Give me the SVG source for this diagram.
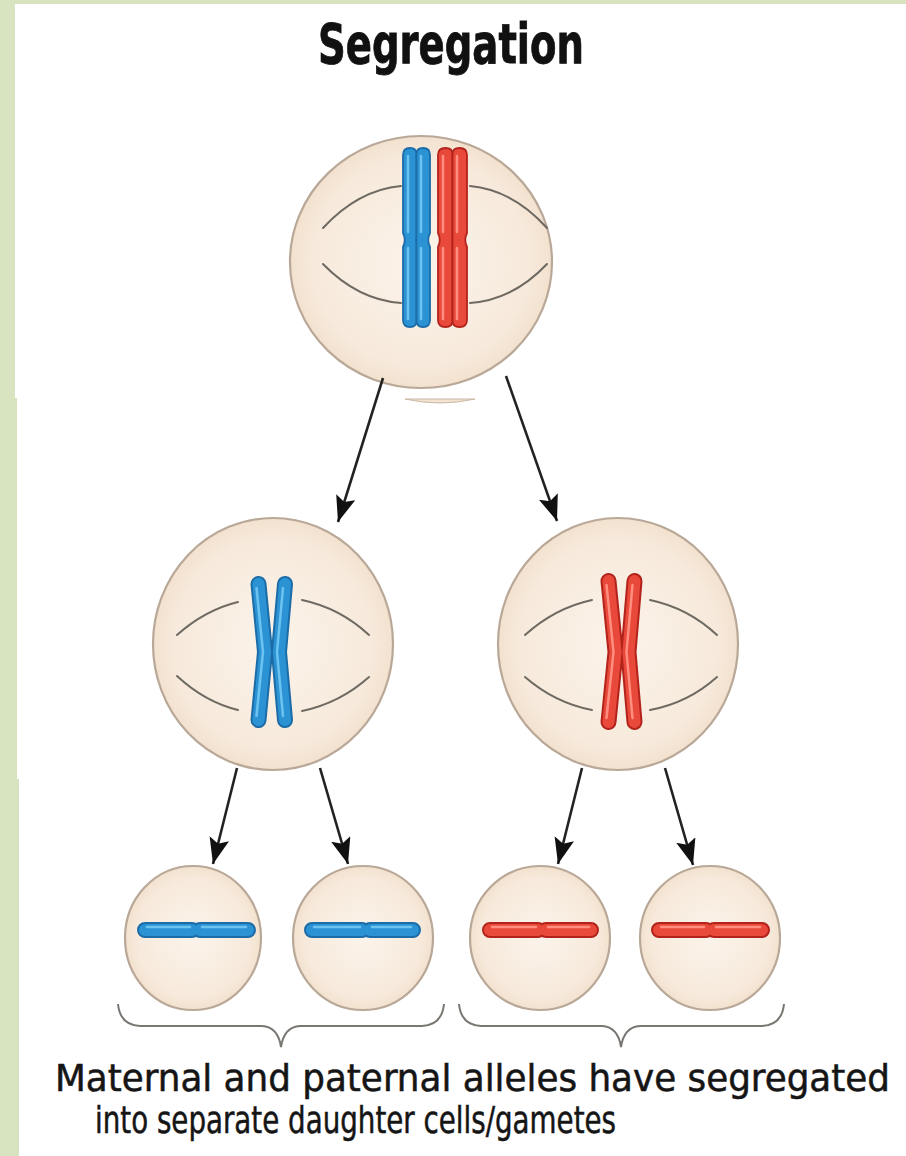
<svg xmlns="http://www.w3.org/2000/svg" width="906" height="1156" viewBox="0 0 906 1156">
  <defs>
    <radialGradient id="cellFill" cx="50%" cy="50%" r="55%">
      <stop offset="0" stop-color="#fbf3ea"/>
      <stop offset="0.75" stop-color="#f7eadc"/>
      <stop offset="1" stop-color="#f0dcc6"/>
    </radialGradient>
    <marker id="arrow" markerUnits="userSpaceOnUse" markerWidth="30" markerHeight="24" refX="26" refY="10" orient="auto">
      <path d="M0,0 L26,10 L0,20 L5,10 Z" fill="#111"/>
    </marker>
    <style>
      .cell { fill: url(#cellFill); stroke: #b9a897; stroke-width: 2.2; }
      .spindle { fill: none; stroke: #6e6a62; stroke-width: 2; stroke-linecap: round; }
      .blue-body { fill: #2b93d4; stroke: #1c6ca8; stroke-width: 1.8; }
      .red-body { fill: #e8493b; stroke: #b3231b; stroke-width: 1.8; }
      .blue-o { fill: none; stroke: #1c6ca8; stroke-linecap: round; stroke-linejoin: round; }
      .blue-m { fill: none; stroke: #2b93d4; stroke-linecap: round; stroke-linejoin: round; }
      .blue-h { fill: none; stroke: #6cc3f0; stroke-linecap: round; stroke-linejoin: round; }
      .red-o { fill: none; stroke: #b3231b; stroke-linecap: round; stroke-linejoin: round; }
      .red-m { fill: none; stroke: #e8493b; stroke-linecap: round; stroke-linejoin: round; }
      .red-h { fill: none; stroke: #ff8e7e; stroke-linecap: round; stroke-linejoin: round; }
      .conn { fill: none; stroke: #222; stroke-width: 2.6; }
      .brace { fill: none; stroke: #7a7772; stroke-width: 2; }
      .title { font-family: "Liberation Sans Narrow", "DejaVu Sans Condensed", "Liberation Sans", sans-serif; font-weight: bold; font-size: 55px; fill: #111; stroke: #111; stroke-width: 0.8; }
      .caption { font-family: "Liberation Sans Narrow", "DejaVu Sans Condensed", "Liberation Sans", sans-serif; font-size: 38px; fill: #151515; stroke: #151515; stroke-width: 0.5; }
    </style>
  </defs>

  <!-- page background with mat border -->
  <rect x="0" y="0" width="906" height="1156" fill="#ffffff"/>
  <rect x="0" y="0" width="906" height="4" fill="#d8e4bf"/>
  <path d="M0,0 H15 V398 H17 V779 H19 V1156 H0 Z" fill="#d8e4bf"/>

  <!-- title -->
  <text class="title" x="451" y="63" text-anchor="middle" textLength="266" lengthAdjust="spacingAndGlyphs">Segregation</text>

  <!-- parent cell with homologous pair -->
  <g id="parent-cell">
    <ellipse class="cell" cx="421" cy="262" rx="131" ry="126"/>
    <path class="spindle" d="M323,228 Q358,190 401,186"/>
    <path class="spindle" d="M470,186 Q513,190 547,228"/>
    <path class="spindle" d="M323,264 Q358,300 401,303"/>
    <path class="spindle" d="M470,303 Q513,300 547,264"/>
    <g id="pair-blue">
      <path class="blue-body" d="M416.5,154 Q416.5,148 410,148 Q403,148 403,155 L403,233 Q406.5,240 403,247 L403,320 Q403,327 410,327 Q416.5,327 416.5,321 Z"/>
      <path class="blue-body" d="M416.5,154 Q416.5,148 423,148 Q430,148 430,155 L430,233 Q426.5,240 430,247 L430,320 Q430,327 423,327 Q416.5,327 416.5,321 Z"/>
      <path class="blue-h" stroke-width="2.5" d="M408,156 V232 M408,248 V319 M421,156 V232 M421,248 V319"/>
    </g>
    <g id="pair-red">
      <path class="red-body" d="M452.5,154 Q452.5,148 445.5,148 Q438,148 438,155 L438,233 Q441.5,240 438,247 L438,320 Q438,327 445.5,327 Q452.5,327 452.5,321 Z"/>
      <path class="red-body" d="M452.5,154 Q452.5,148 459.5,148 Q467,148 467,155 L467,233 Q463.5,240 467,247 L467,320 Q467,327 459.5,327 Q452.5,327 452.5,321 Z"/>
      <path class="red-h" stroke-width="2.5" d="M443,156 V232 M443,248 V319 M457,156 V232 M457,248 V319"/>
    </g>
  </g>
  <!-- sliver below the parent cell -->
  <path d="M405,399 L475,399 Q440,407 405,399 Z" fill="#f3e2cf" stroke="#c9b8a6" stroke-width="1"/>

  <!-- first division: cell with maternal chromosome -->
  <g id="cell-blue">
    <ellipse class="cell" cx="273" cy="644" rx="120" ry="126"/>
    <path class="spindle" d="M177,635 Q205,610 238,602"/>
    <path class="spindle" d="M302,600 Q340,608 369,635"/>
    <path class="spindle" d="M177,676 Q205,702 238,710"/>
    <path class="spindle" d="M302,711 Q340,703 369,677"/>
    <path class="blue-o" stroke-width="16" d="M258.5,584 L265,652 L258.5,720 M285,584 L279,652 L285,720"/>
    <path class="blue-m" stroke-width="12" d="M258.5,584 L265,652 L258.5,720 M285,584 L279,652 L285,720"/>
    <path class="blue-h" stroke-width="2.5" d="M256.5,588 L263,652 L256.5,716 M283,588 L277,652 L283,716"/>
  </g>

  <!-- first division: cell with paternal chromosome -->
  <g id="cell-red">
    <ellipse class="cell" cx="618" cy="644" rx="120" ry="126"/>
    <path class="spindle" d="M525,635 Q555,608 592,600"/>
    <path class="spindle" d="M650,600 Q688,608 717,635"/>
    <path class="spindle" d="M525,677 Q555,703 592,710"/>
    <path class="spindle" d="M650,710 Q688,703 717,677"/>
    <path class="red-o" stroke-width="16" d="M608.5,581 L615.5,652 L608.5,722 M634.5,581 L628.5,652 L634.5,722"/>
    <path class="red-m" stroke-width="12" d="M608.5,581 L615.5,652 L608.5,722 M634.5,581 L628.5,652 L634.5,722"/>
    <path class="red-h" stroke-width="2.5" d="M606.5,585 L613.5,652 L606.5,718 M632.5,585 L626.5,652 L632.5,718"/>
  </g>

  <!-- daughter cells / gametes -->
  <g id="gamete-1">
    <ellipse class="cell" cx="193" cy="938" rx="68" ry="72"/>
    <path class="blue-o" stroke-width="16" d="M145,930 H192 M200,930 H248"/>
    <path class="blue-m" stroke-width="12" d="M145,930 H192 M200,930 H248"/>
    <path class="blue-h" stroke-width="2.5" d="M147,927 H190 M202,927 H246"/>
  </g>
  <g id="gamete-2">
    <ellipse class="cell" cx="363" cy="938" rx="70" ry="72"/>
    <path class="blue-o" stroke-width="16" d="M312,930 H362 M370,930 H413"/>
    <path class="blue-m" stroke-width="12" d="M312,930 H362 M370,930 H413"/>
    <path class="blue-h" stroke-width="2.5" d="M314,927 H360 M372,927 H411"/>
  </g>
  <g id="gamete-3">
    <ellipse class="cell" cx="540" cy="938" rx="70" ry="72"/>
    <path class="red-o" stroke-width="16" d="M490,930 H538 M546,930 H591"/>
    <path class="red-m" stroke-width="12" d="M490,930 H538 M546,930 H591"/>
    <path class="red-h" stroke-width="2.5" d="M492,927 H536 M548,927 H589"/>
  </g>
  <g id="gamete-4">
    <ellipse class="cell" cx="710" cy="938" rx="70" ry="72"/>
    <path class="red-o" stroke-width="16" d="M659,930 H706 M714,930 H762"/>
    <path class="red-m" stroke-width="12" d="M659,930 H706 M714,930 H762"/>
    <path class="red-h" stroke-width="2.5" d="M661,927 H704 M716,927 H760"/>
  </g>

  <!-- division arrows -->
  <g id="connectors">
    <line class="conn" x1="383" y1="378" x2="338" y2="522" marker-end="url(#arrow)"/>
    <line class="conn" x1="506" y1="376" x2="557" y2="521" marker-end="url(#arrow)"/>
    <line class="conn" x1="237" y1="768" x2="213" y2="864" marker-end="url(#arrow)"/>
    <line class="conn" x1="320" y1="768" x2="348" y2="864" marker-end="url(#arrow)"/>
    <line class="conn" x1="582" y1="768" x2="558" y2="864" marker-end="url(#arrow)"/>
    <line class="conn" x1="665" y1="768" x2="693" y2="865" marker-end="url(#arrow)"/>
  </g>

  <!-- grouping braces -->
  <g id="braces">
    <path class="brace" d="M118,1004 Q120,1025 140,1026 L262,1026 Q278,1027 281,1047 Q284,1027 300,1026 L422,1026 Q442,1025 444,1004"/>
    <path class="brace" d="M459,1004 Q461,1025 481,1026 L602,1026 Q618,1027 621,1047 Q624,1027 640,1026 L762,1026 Q782,1025 784,1004"/>
  </g>

  <!-- caption -->
  <g id="caption">
    <text class="caption" x="55" y="1091" textLength="835" lengthAdjust="spacingAndGlyphs">Maternal and paternal alleles have segregated</text>
    <text class="caption" x="95" y="1133" textLength="521" lengthAdjust="spacingAndGlyphs">into separate daughter cells/gametes</text>
  </g>
</svg>
